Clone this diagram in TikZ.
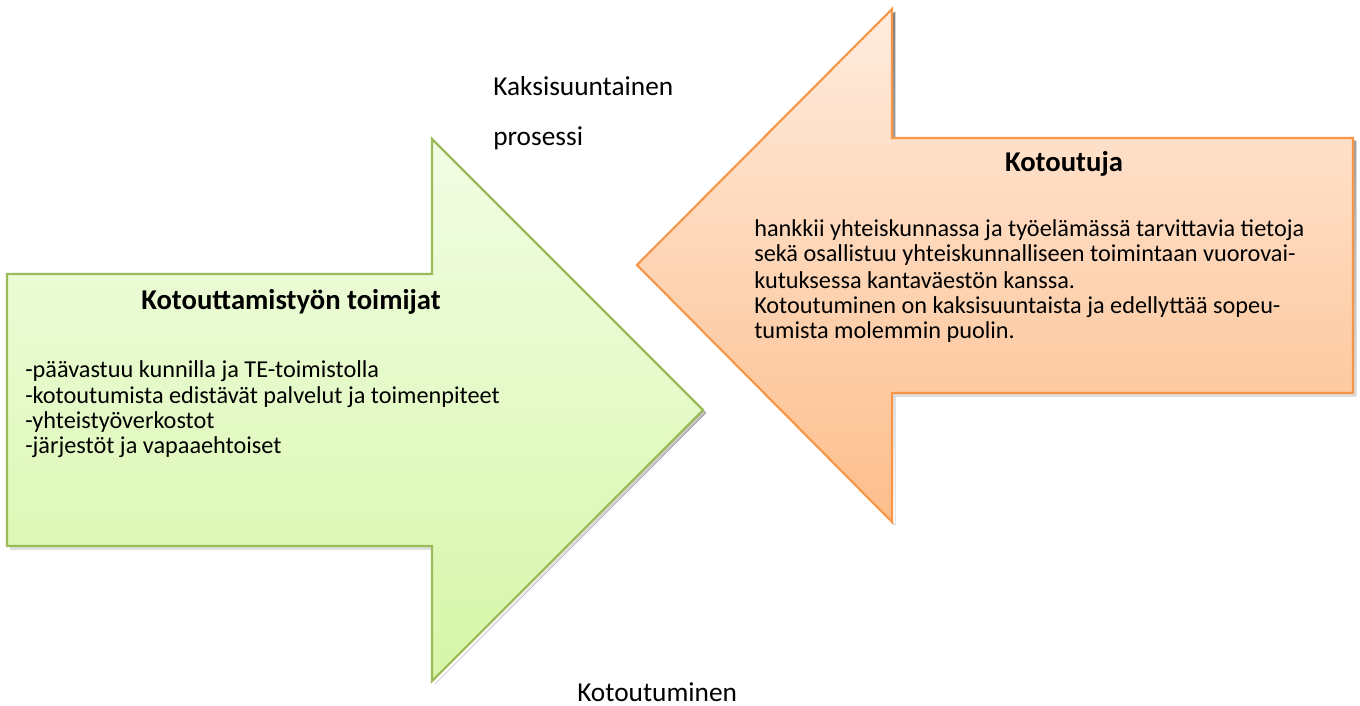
\documentclass[tikz,border=0pt]{standalone}
\usepackage{fontspec}
\setmainfont{Carlito}
\definecolor{gline}{RGB}{155,187,89}
\definecolor{gtop}{RGB}{242,253,228}
\definecolor{gbot}{RGB}{214,246,168}
\definecolor{oline}{RGB}{247,150,70}
\definecolor{otop}{RGB}{254,236,222}
\definecolor{obot}{RGB}{253,190,140}
\definecolor{shade}{RGB}{160,160,160}
\tikzset{
  txt/.style={anchor=base west, inner sep=0pt, font=\fontsize{18.2}{22}\selectfont},
  ttl/.style={anchor=base, inner sep=0pt, font=\fontsize{21.5}{26}\selectfont\bfseries},
  big/.style={anchor=base west, inner sep=0pt, font=\fontsize{20.5}{25}\selectfont},
}
\begin{document}
\begin{tikzpicture}[x=0.75pt,y=-0.75pt]
\useasboundingbox (0,0) rectangle (1360,706);
% shadows
\fill[shade] (10,277) -- (435,277) -- (435,142) -- (706,413) -- (435,684) -- (435,549) -- (10,549) -- cycle;
\fill[shade] (1356,141) -- (895,141) -- (895,12) -- (640,268) -- (895,525) -- (895,396) -- (1356,396) -- cycle;
% green arrow
\path[draw=gline, line width=1.6pt, top color=gtop, bottom color=gbot]
  (7,274) -- (432,274) -- (432,139) -- (703,410) -- (432,681) -- (432,546) -- (7,546) -- cycle;
% orange arrow
\path[draw=oline, line width=1.6pt, top color=otop, bottom color=obot]
  (1353,138) -- (892,138) -- (892,9) -- (637,265) -- (892,522) -- (892,393) -- (1353,393) -- cycle;
% texts
\node[big] (k1) at (493,96) {Kaksisuuntainen};
\node[big] (k2) at (493,146) {prosessi};
\node[big] (k3) at (577,701) {Kotoutuminen};
\node[ttl] (gt) at (291,309) {Kotouttamistyön toimijat};
\node[txt] (g1) at (25,377) {-päävastuu kunnilla ja TE-toimistolla};
\node[txt] (g2) at (25,403) {-kotoutumista edistävät palvelut ja toimenpiteet};
\node[txt] (g3) at (25,428) {-yhteistyöverkostot};
\node[txt] (g4) at (25,453) {-järjestöt ja vapaaehtoiset};
\node[ttl] (ot) at (1064,172) {Kotoutuja};
\node[txt] (o1) at (754,237) {hankkii yhteiskunnassa ja työelämässä tarvittavia tietoja};
\node[txt] (o2) at (754,262) {sekä osallistuu yhteiskunnalliseen toimintaan vuorovai-};
\node[txt] (o3) at (754,288) {kutuksessa kantaväestön kanssa.};
\node[txt] (o4) at (754,313) {Kotoutuminen on kaksisuuntaista ja edellyttää sopeu-};
\node[txt] (o5) at (754,338) {tumista molemmin puolin.};
\end{tikzpicture}
\end{document}
